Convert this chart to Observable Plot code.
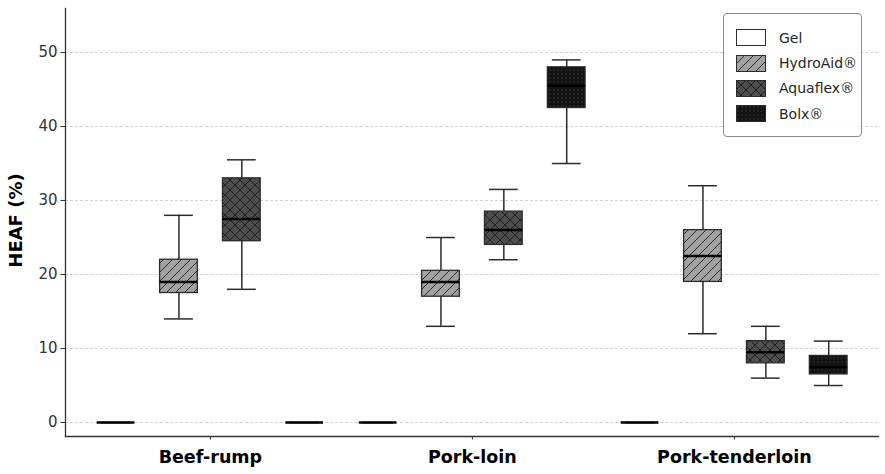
<!DOCTYPE html>
<html>
<head>
<meta charset="utf-8">
<script src="https://cdn.jsdelivr.net/npm/d3@7"></script>
<script src="https://cdn.jsdelivr.net/npm/@observablehq/plot@0.6"></script>
<style>
  body { margin: 0; background: #fff; font-family: "DejaVu Sans", sans-serif; }
  #chart { position: relative; width: 885px; height: 474px; }
  .legend {
    position: absolute; left: 723px; top: 13px; width: 139px; height: 124px;
    box-sizing: border-box; border: 1px solid #8c8c8c; border-radius: 4px;
    background: rgba(255, 255, 255, 0.9); padding-top: 11px;
  }
  .legend .row { display: flex; align-items: center; height: 25.4px; }
  .legend svg { margin-left: 12px; margin-right: 13px; }
  .legend span { font-size: 14px; color: #262626; line-height: 1; }
</style>
</head>
<body>
<!-- shared fill patterns for the boxes and the legend swatches -->
<svg width="0" height="0" style="position:absolute">
  <defs>
    <pattern id="hatch-diag" width="9" height="9" patternUnits="userSpaceOnUse">
      <rect width="9" height="9" fill="#a2a2a2"/>
      <path d="M-1,1 l2,-2 M0,9 l9,-9 M8,10 l2,-2" stroke="#2c2c2c" stroke-width="1"/>
    </pattern>
    <pattern id="hatch-cross" width="10" height="10" patternUnits="userSpaceOnUse">
      <rect width="10" height="10" fill="#4e4e4e"/>
      <path d="M0,0 L10,10 M10,0 L0,10" stroke="#1e1e1e" stroke-width="1"/>
    </pattern>
    <pattern id="hatch-dots" width="4" height="4" patternUnits="userSpaceOnUse">
      <rect width="4" height="4" fill="#131313"/>
      <circle cx="2" cy="2" r="0.7" fill="#3c3c3c"/>
    </pattern>
  </defs>
</svg>
<div id="chart"></div>
<script>
// Meat cuts and injection treatments
const cuts = ["Beef-rump", "Pork-loin", "Pork-tenderloin"];
const treatments = ["Gel", "HydroAid®", "Aquaflex®", "Bolx®"];
const treatmentFills = ["white", "url(#hatch-diag)", "url(#hatch-cross)", "url(#hatch-dots)"];

// Five-number summaries per treatment (Gel, HydroAid, Aquaflex, Bolx): [min, q1, median, q3, max]
const beefRump       = [[0, 0, 0, 0, 0], [14, 17.5, 19, 22, 28], [18, 24.5, 27.5, 33, 35.5], [0, 0, 0, 0, 0]];
const porkLoin       = [[0, 0, 0, 0, 0], [13, 17, 19, 20.5, 25], [22, 24, 26, 28.5, 31.5], [35, 42.5, 45.5, 48, 49]];
const porkTenderloin = [[0, 0, 0, 0, 0], [12, 19, 22.5, 26, 32], [6, 8, 9.5, 11, 13], [5, 6.5, 7.5, 9, 11]];

const yTicks = [0, 10, 20, 30, 40, 50];

// grouped layout: each cut sits at its index, treatments are dodged around it
const dodge = [-0.36, -0.12, 0.12, 0.36];
const boxHalf = 0.072;
const capHalf = 0.055;

const summaries = [beefRump, porkLoin, porkTenderloin];
const rows = cuts.flatMap((cut, i) =>
  treatments.map((treatment, j) => {
    const [min, q1, median, q3, max] = summaries[i][j];
    return {cut, treatment, pos: i + dodge[j], min, q1, median, q3, max};
  })
);

const ink = "#2b2b2b";

const plot = Plot.plot({
  width: 885,
  height: 474,
  marginLeft: 65,
  marginRight: 7,
  marginTop: 8,
  marginBottom: 38,
  style: {fontFamily: "DejaVu Sans, sans-serif", fontSize: "15px", color: "#333", background: "white", overflow: "visible"},
  x: {domain: [-0.553, 2.55], label: null},
  y: {domain: [-1.89, 55.95], label: null},
  color: {domain: treatments, range: treatmentFills},
  marks: [
    // dashed horizontal grid
    Plot.ruleY(yTicks, {stroke: "#c6c6c6", strokeWidth: 0.8, strokeDasharray: "3,2"}),
    // whiskers
    Plot.ruleX(rows, {x: "pos", y1: "min", y2: "q1", stroke: ink, strokeWidth: 1.5}),
    Plot.ruleX(rows, {x: "pos", y1: "q3", y2: "max", stroke: ink, strokeWidth: 1.5}),
    // whisker caps
    Plot.ruleY(rows, {y: "min", x1: d => d.pos - capHalf, x2: d => d.pos + capHalf, stroke: ink, strokeWidth: 1.5}),
    Plot.ruleY(rows, {y: "max", x1: d => d.pos - capHalf, x2: d => d.pos + capHalf, stroke: ink, strokeWidth: 1.5}),
    // interquartile boxes
    Plot.rectY(rows, {x1: d => d.pos - boxHalf, x2: d => d.pos + boxHalf, y1: "q1", y2: "q3", fill: "treatment", stroke: ink, strokeWidth: 1.3}),
    // medians
    Plot.ruleY(rows, {y: "median", x1: d => d.pos - boxHalf, x2: d => d.pos + boxHalf, stroke: "#000", strokeWidth: 2.5}),
    // axes and spines
    Plot.axisY(yTicks, {tickSize: 4.5, tickPadding: 3.5, fontSize: 15, stroke: "#333", fill: "#333", label: null}),
    Plot.axisX(d3.range(cuts.length), {tickFormat: i => cuts[i], tickSize: 3.5, tickPadding: 10.5, fontSize: 17.5, fontWeight: "bold", fill: "#000", stroke: "#333", label: null}),
    Plot.frame({anchor: "left", stroke: "#333", strokeWidth: 1.3}),
    Plot.frame({anchor: "bottom", stroke: "#333", strokeWidth: 1.3}),
    Plot.text(["HEAF (%)"], {frameAnchor: "left", rotate: -90, lineAnchor: "bottom", textAnchor: "middle",
      dx: -43.5, dy: -2, fontSize: 18, fontWeight: "bold", fill: "#000"})
  ]
});

const chart = document.getElementById("chart");
chart.appendChild(plot);

// legend in the top-right corner of the panel
const legend = document.createElement("div");
legend.className = "legend";
treatments.forEach((name, i) => {
  const row = document.createElement("div");
  row.className = "row";
  row.innerHTML = `<svg width="30" height="17"><rect x="0.5" y="0.5" width="29" height="16" fill="${treatmentFills[i]}" stroke="${ink}" stroke-width="1"/></svg><span>${name}</span>`;
  legend.appendChild(row);
});
chart.appendChild(legend);
</script>
</body>
</html>
